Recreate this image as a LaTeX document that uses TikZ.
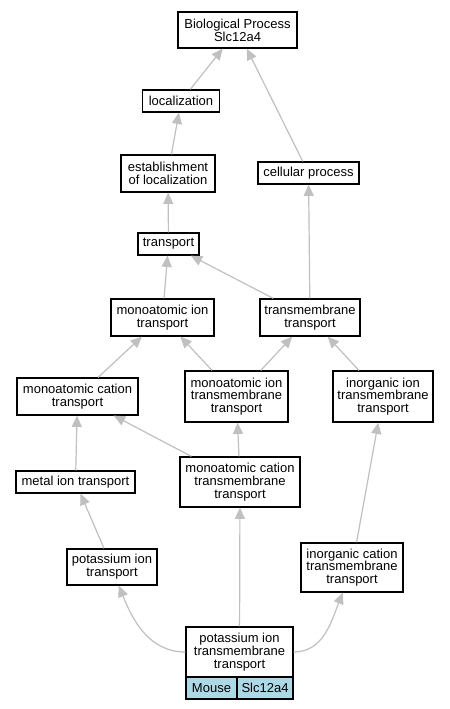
\documentclass[tikz,border=0pt]{standalone}
\usepackage{fontspec}
\setmainfont{Liberation Sans}
\usepackage{xcolor}
\usetikzlibrary{
    arrows.meta,
    shapes,
    positioning,
    calc
}
\definecolor{linkgray}{HTML}{C0C0C0}
\definecolor{taxonblue}{HTML}{ADD8E6}

\begin{document}
\begin{tikzpicture}[x=0.75pt, y=-0.75pt, >={Triangle[length=8.5pt,width=7.5pt]},
                go-term/.style={
                rectangle, draw=black, line width=0.9pt, fill=white, align=center, inner sep=0pt,
                font=\fontsize{9.75}{9.6}\selectfont},
                go-link/.style={->, draw=linkgray, line width=0.9pt, color=linkgray},
                taxon-cell/.style={go-term, fill=taxonblue, minimum height=16.5pt}]
                \useasboundingbox[fill=white] (0,0) rectangle (449,709);
                % terms
                \node[go-term, minimum width=89.25pt, minimum height=27pt] (bp) at (237.5,30) {Biological Process\\Slc12a4};
                \node[go-term, minimum width=57.75pt, minimum height=16.5pt] (loc) at (181,101) {localization};
                \node[go-term, minimum width=70.5pt, minimum height=27.75pt] (estab) at (168,173.5) {establishment\\of localization};
                \node[go-term, minimum width=75.75pt, minimum height=16.5pt] (cell) at (308.5,173) {cellular process};
                \node[go-term, minimum width=45.75pt, minimum height=16.5pt] (transp) at (168.5,244) {transport};
                \node[go-term, minimum width=77.25pt, minimum height=27.75pt] (mit) at (162.5,317.5) {monoatomic ion\\transport};
                \node[go-term, minimum width=75pt, minimum height=27.75pt] (tmt) at (310,317.5) {transmembrane\\transport};
                \node[go-term, minimum width=90.75pt, minimum height=27.75pt] (mct) at (77.5,396.5) {monoatomic cation\\transport};
                \node[go-term, minimum width=77.25pt, minimum height=38.25pt] (mitt) at (236.5,396.5) {monoatomic ion\\transmembrane\\transport};
                \node[go-term, minimum width=75pt, minimum height=38.25pt] (iitt) at (383,396.5) {inorganic ion\\transmembrane\\transport};
                \node[go-term, minimum width=89.25pt, minimum height=16.5pt] (metal) at (75.5,482) {metal ion transport};
                \node[go-term, minimum width=90pt, minimum height=37.5pt] (mctt) at (240,482) {monoatomic cation\\transmembrane\\transport};
                \node[go-term, minimum width=67.5pt, minimum height=27pt] (kit) at (112,567) {potassium ion\\transport};
                \node[go-term, minimum width=76.5pt, minimum height=36.75pt] (ictt) at (352,567.5) {inorganic cation\\transmembrane\\transport};
                % annotated term
                \node[go-term, minimum width=80.25pt, minimum height=37.5pt] (ktt) at (239.5,652) {potassium ion\\transmembrane\\transport};
                \node[taxon-cell, minimum width=38.25pt] (mouse) at (211.5,688) {Mouse};
                \node[taxon-cell, minimum width=42pt] (gene) at (265,688) {Slc12a4};
                % links
                \draw[go-link] (loc) -- (bp);
                \draw[go-link] (cell) -- (bp);
                \draw[go-link] (estab) -- (loc);
                \draw[go-link] (transp) -- (estab);
                \draw[go-link] (tmt) -- (cell);
                \draw[go-link] (mit) -- (transp);
                \draw[go-link] (tmt) -- (transp);
                \draw[go-link] (mct) -- (mit);
                \draw[go-link] (mitt) -- (mit);
                \draw[go-link] (mitt) -- (tmt);
                \draw[go-link] (iitt) -- (tmt);
                \draw[go-link] (metal) -- (mct);
                \draw[go-link] (mctt) -- (mct);
                \draw[go-link] (mctt) -- (mitt);
                \draw[go-link] (kit) -- (metal);
                \draw[go-link] (ictt) -- (iitt);
                \draw[go-link] (ktt) -- (mctt);
                \draw[go-link] (ktt.west) to[out=180, in=-68] (kit.-70);
                \draw[go-link] (ktt.east) to[out=0, in=-112] (ictt.-110);
            \end{tikzpicture}
\end{document}
